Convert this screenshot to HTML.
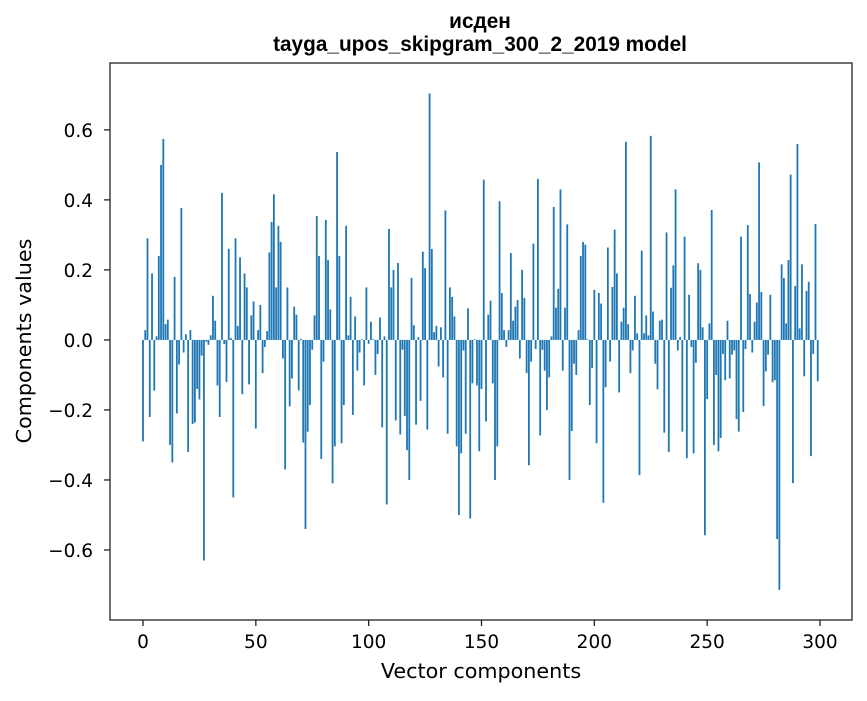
<!DOCTYPE html>
<html><head><meta charset="utf-8"><style>
body{margin:0;background:#fff;}
svg text{font-family:"DejaVu Sans","Liberation Sans",sans-serif;fill:#000;}
svg text.title{font-family:"Liberation Sans","DejaVu Sans",sans-serif;}
</style></head><body>
<svg id="chart" width="867" height="696" xmlns="http://www.w3.org/2000/svg">
<rect width="867" height="696" fill="#fff"/>
<text class="title" x="480" y="28" text-anchor="middle" font-size="20.8" font-weight="bold">исден</text>
<text class="title" x="480" y="51" text-anchor="middle" font-size="20.8" font-weight="bold">tayga_upos_skipgram_300_2_2019 model</text>
<g id="bars"></g>
<g id="axes"></g>
<rect x="110" y="63" width="742" height="557" fill="none" stroke="#222" stroke-width="1.3"/>
<text x="481" y="678" text-anchor="middle" font-size="20.7">Vector components</text>
<text x="31" y="341" text-anchor="middle" font-size="20.7" transform="rotate(-90 31 341)">Components values</text>
</svg>
<script>
const values = [
-0.29,0.028,0.29,-0.22,0.19,-0.145,0.01,0.24,0.50,0.574,
0.045,0.058,-0.30,-0.35,0.18,-0.21,-0.07,0.377,-0.036,0.016,
-0.32,0.028,-0.24,-0.236,-0.14,-0.17,-0.045,-0.63,-0.005,-0.014,
0.013,0.126,0.055,-0.13,-0.22,0.42,-0.012,-0.12,0.26,0.005,
-0.45,0.29,0.04,0.236,-0.155,0.19,0.15,-0.127,0.07,0.11,
-0.253,0.028,0.10,-0.095,-0.02,0.025,0.25,0.337,0.416,0.15,
0.326,0.28,-0.053,-0.37,0.15,-0.19,-0.11,0.095,0.072,-0.144,
0.003,-0.293,-0.54,-0.262,-0.186,-0.028,0.07,0.354,0.24,-0.34,
-0.062,0.343,0.228,0.087,-0.41,-0.304,0.537,0.24,-0.295,-0.186,
0.326,0.013,0.123,-0.214,0.067,-0.088,-0.036,0.002,-0.13,0.15,
-0.011,0.052,0.002,-0.10,-0.04,0.064,-0.25,0.01,-0.47,0.317,
0.15,0.20,-0.23,0.22,-0.27,-0.028,-0.217,-0.315,-0.40,0.177,
0.042,-0.242,0.008,-0.174,0.252,0.205,-0.256,0.704,0.26,0.022,
0.04,-0.076,0.036,-0.107,0.37,-0.268,0.15,0.123,0.067,-0.304,
-0.50,-0.324,-0.03,-0.268,0.09,-0.51,-0.124,0.002,-0.13,-0.318,
-0.14,0.458,-0.233,0.072,0.112,-0.124,-0.40,-0.304,0.396,0.134,
0.028,-0.02,0.028,0.248,0.055,0.095,0.114,-0.053,0.20,0.12,
-0.095,-0.358,-0.062,0.275,-0.026,0.46,-0.273,-0.028,-0.088,-0.20,
-0.107,0.01,0.38,0.092,0.146,0.43,-0.088,0.092,0.33,-0.40,
-0.26,-0.068,-0.10,0.028,0.24,0.28,0.272,0.002,-0.186,-0.08,
0.143,-0.295,0.134,0.104,-0.465,-0.135,0.264,-0.062,0.151,0.315,
0.19,-0.15,0.052,0.092,0.566,0.045,-0.095,-0.03,0.126,0.019,
-0.386,0.255,0.019,0.07,0.013,0.583,0.081,-0.068,-0.141,0.055,
0.058,-0.265,0.307,-0.32,0.149,0.213,0.43,-0.03,0.008,-0.262,
0.295,-0.338,0.129,-0.02,-0.324,-0.065,0.219,0.20,0.036,-0.558,
-0.169,0.047,0.371,-0.30,-0.10,-0.318,-0.28,-0.04,-0.115,0.055,
-0.11,-0.042,-0.03,-0.226,-0.262,0.295,-0.206,-0.026,0.328,0.131,
-0.036,0.052,0.107,0.507,0.137,-0.189,-0.09,-0.042,0.129,-0.121,
-0.115,-0.569,-0.714,0.216,0.177,0.047,0.228,0.472,-0.409,0.154,
0.56,0.033,0.216,-0.104,0.14,0.166,-0.332,-0.04,0.331,-0.118
];
const xTicks = [0,50,100,150,200,250,300];
const yTicks = [-0.6,-0.4,-0.2,0.0,0.2,0.4,0.6];
const yTickLabels = ["\u22120.6","\u22120.4","\u22120.2","0.0","0.2","0.4","0.6"];

const NS="http://www.w3.org/2000/svg";
const X0=110,X1=852,Y0=63,Y1=620;
const xMin=-14.62,xMax=314.18,yMin=-0.8,yMax=0.791;
function xs(v){return X0+(v-xMin)/(xMax-xMin)*(X1-X0);}
function ys(v){return Y1-(v-yMin)/(yMax-yMin)*(Y1-Y0);}
const bars=document.getElementById('bars');
const bw=(xs(1)-xs(0))*0.8;
values.forEach((v,i)=>{
  const r=document.createElementNS(NS,'rect');
  
  
  const y=Math.min(ys(v),ys(0));
  r.setAttribute('x',xs(i)-bw/2);
  r.setAttribute('y',y);
  r.setAttribute('width',bw);
  r.setAttribute('height',Math.abs(ys(v)-ys(0)));
  r.setAttribute('fill','#1f77b4');
  bars.appendChild(r);
});
const axes=document.getElementById('axes');
xTicks.forEach(t=>{
  const l=document.createElementNS(NS,'line');
  
  
  l.setAttribute('x1',xs(t));l.setAttribute('x2',xs(t));
  l.setAttribute('y1',Y1);l.setAttribute('y2',Y1+6);
  l.setAttribute('stroke','#222');l.setAttribute('stroke-width','1.3');
  axes.appendChild(l);
  const tx=document.createElementNS(NS,'text');
  
  
  tx.setAttribute('x',xs(t));tx.setAttribute('y',Y1+28);
  tx.setAttribute('text-anchor','middle');tx.setAttribute('font-size','18.5');
  tx.textContent=String(t);
  axes.appendChild(tx);
});
yTicks.forEach((t,i)=>{
  const l=document.createElementNS(NS,'line');
  
  
  l.setAttribute('x1',X0-6);l.setAttribute('x2',X0);
  l.setAttribute('y1',ys(t));l.setAttribute('y2',ys(t));
  l.setAttribute('stroke','#222');l.setAttribute('stroke-width','1.3');
  axes.appendChild(l);
  const tx=document.createElementNS(NS,'text');
  
  
  tx.setAttribute('x',X0-17);tx.setAttribute('y',ys(t)+7);
  tx.setAttribute('text-anchor','end');tx.setAttribute('font-size','18.5');
  tx.textContent=yTickLabels[i];
  axes.appendChild(tx);
});
</script>
</body></html>
